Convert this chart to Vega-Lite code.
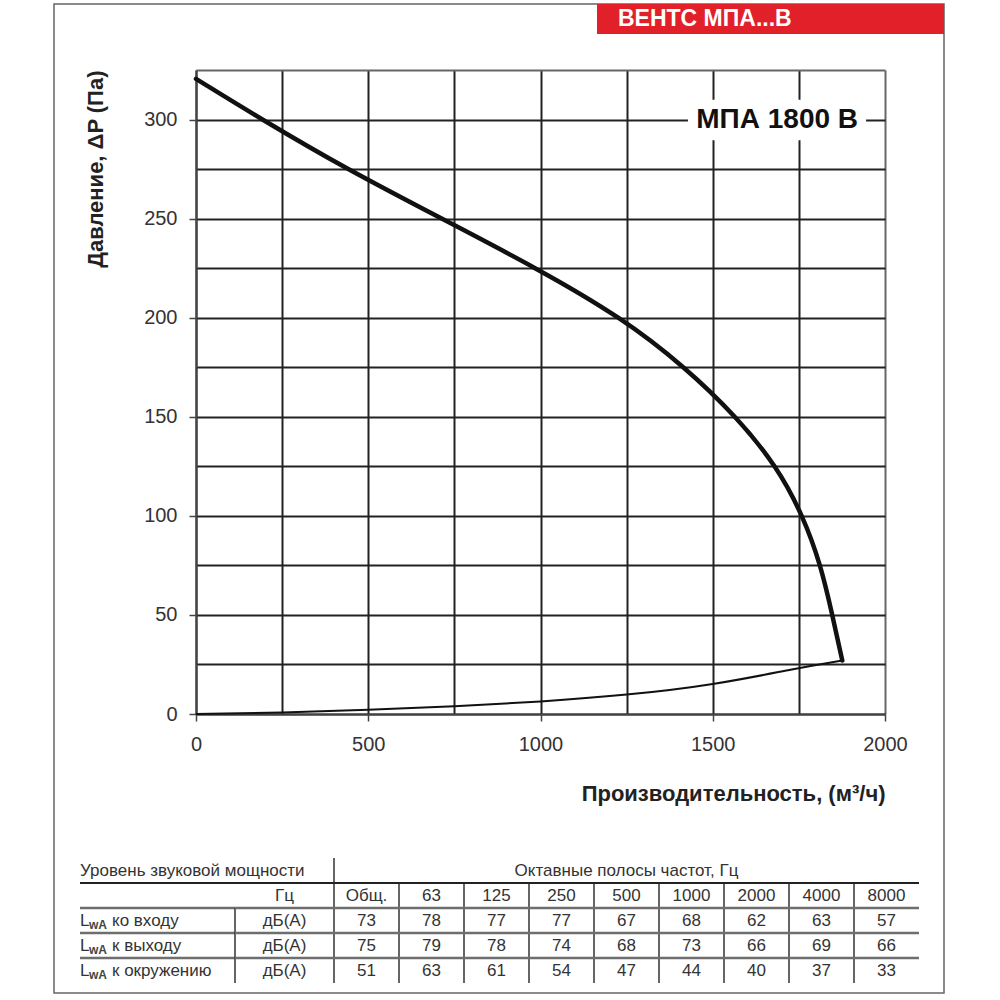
{
  "$schema": "https://vega.github.io/schema/vega-lite/v6.json",
  "autosize": {"type": "none"},
  "padding": {"left": 196, "top": 70, "right": 115, "bottom": 286},
  "width": 689,
  "height": 644,
  "background": "#ffffff",
  "config": {"view": {"stroke": null}, "font": "Liberation Sans"},
  "datasets": {
    "fan": [
      {"q": 0, "p": 320.5},
      {"q": 191, "p": 300},
      {"q": 437, "p": 275},
      {"q": 713, "p": 250},
      {"q": 989, "p": 225},
      {"q": 1236, "p": 200},
      {"q": 1420, "p": 175},
      {"q": 1569, "p": 150},
      {"q": 1686, "p": 125},
      {"q": 1762, "p": 100},
      {"q": 1814, "p": 75},
      {"q": 1847, "p": 50},
      {"q": 1876, "p": 27}
    ],
    "system": [
      {"q": 0, "p": 0},
      {"q": 250, "p": 0.7},
      {"q": 500, "p": 2},
      {"q": 750, "p": 3.8},
      {"q": 1000, "p": 6.2},
      {"q": 1250, "p": 9.5},
      {"q": 1500, "p": 14.5},
      {"q": 1750, "p": 23.3},
      {"q": 1876, "p": 27}
    ],
    "cols": [
      {"col": "Общ."}, {"col": "63"}, {"col": "125"}, {"col": "250"}, {"col": "500"},
      {"col": "1000"}, {"col": "2000"}, {"col": "4000"}, {"col": "8000"}
    ],
    "cells": [
      {"row": "r1", "col": "Общ.", "value": 73}, {"row": "r1", "col": "63", "value": 78},
      {"row": "r1", "col": "125", "value": 77}, {"row": "r1", "col": "250", "value": 77},
      {"row": "r1", "col": "500", "value": 67}, {"row": "r1", "col": "1000", "value": 68},
      {"row": "r1", "col": "2000", "value": 62}, {"row": "r1", "col": "4000", "value": 63},
      {"row": "r1", "col": "8000", "value": 57},
      {"row": "r2", "col": "Общ.", "value": 75}, {"row": "r2", "col": "63", "value": 79},
      {"row": "r2", "col": "125", "value": 78}, {"row": "r2", "col": "250", "value": 74},
      {"row": "r2", "col": "500", "value": 68}, {"row": "r2", "col": "1000", "value": 73},
      {"row": "r2", "col": "2000", "value": 66}, {"row": "r2", "col": "4000", "value": 69},
      {"row": "r2", "col": "8000", "value": 66},
      {"row": "r3", "col": "Общ.", "value": 51}, {"row": "r3", "col": "63", "value": 63},
      {"row": "r3", "col": "125", "value": 61}, {"row": "r3", "col": "250", "value": 54},
      {"row": "r3", "col": "500", "value": 47}, {"row": "r3", "col": "1000", "value": 44},
      {"row": "r3", "col": "2000", "value": 40}, {"row": "r3", "col": "4000", "value": 37},
      {"row": "r3", "col": "8000", "value": 33}
    ],
    "names": [
      {"row": "r1", "symbol": "L", "sub": "wA", "name": "ко входу", "unit": "дБ(А)"},
      {"row": "r2", "symbol": "L", "sub": "wA", "name": "к выходу", "unit": "дБ(А)"},
      {"row": "r3", "symbol": "L", "sub": "wA", "name": "к окружению", "unit": "дБ(А)"}
    ],
    "hlines": [{"row": "hz"}, {"row": "r1"}, {"row": "r2"}, {"row": "r3"}]
  },
  "layer": [
    {
      "data": {"values": [{"part": "page"}]},
      "mark": {"type": "rect", "fill": "transparent", "stroke": "#666666", "strokeWidth": 1.5},
      "encoding": {
        "x": {"field": "part", "type": "nominal", "axis": null,
              "scale": {"type": "band", "range": [-142, 748], "paddingInner": 0, "paddingOuter": 0}},
        "y": {"field": "part", "type": "nominal", "axis": null,
              "scale": {"type": "band", "range": [-66, 923], "paddingInner": 0, "paddingOuter": 0}}
      }
    },
    {
      "data": {"values": [{"series": "ВЕНТС МПА...В"}]},
      "encoding": {
        "x": {"field": "series", "type": "nominal", "axis": null,
              "scale": {"type": "band", "range": [401, 748], "paddingInner": 0, "paddingOuter": 0}},
        "y": {"field": "series", "type": "nominal", "axis": null,
              "scale": {"type": "band", "range": [-66, -36], "paddingInner": 0, "paddingOuter": 0}}
      },
      "layer": [
        {"mark": {"type": "rect", "fill": "#e2202a"}},
        {
          "mark": {"type": "text", "color": "#ffffff", "fontSize": 23, "fontWeight": "bold",
                   "align": "left", "baseline": "middle", "dx": 21},
          "encoding": {
            "x": {"field": "series", "type": "nominal", "bandPosition": 0},
            "text": {"field": "series"}
          }
        }
      ]
    },
    {
      "layer": [
        {
          "data": {"name": "fan"},
          "mark": {"type": "line", "interpolate": "basis", "color": "#111111",
                   "strokeWidth": 4.5, "strokeCap": "round"},
          "encoding": {
            "x": {
              "field": "q", "type": "quantitative",
              "scale": {"domain": [0, 2000], "nice": false},
              "axis": {
                "values": [0, 250, 500, 750, 1000, 1250, 1500, 1750, 2000],
                "format": "d",
                "labelExpr": "datum.value % 500 === 0 ? datum.label : ''",
                "grid": true,
                "gridColor": {"condition": {"test": "datum.value === 2000", "value": "#666666"}, "value": "#222222"},
                "gridWidth": 2, "gridOpacity": 1,
                "domainColor": "#444444", "domainWidth": 2,
                "tickColor": "#444444", "tickWidth": 1.5, "tickSize": 7,
                "tickOpacity": {"condition": {"test": "datum.value % 500 === 0", "value": 1}, "value": 0},
                "labelFontSize": 20, "labelColor": "#333333", "labelPadding": 13,
                "labelFlush": false, "labelOverlap": false,
                "title": "Производительность, (м³/ч)",
                "titleFontSize": 22, "titleFontWeight": "bold", "titleColor": "#222222",
                "titleAnchor": "end", "titlePadding": 29
              }
            },
            "y": {
              "field": "p", "type": "quantitative",
              "scale": {"domain": [0, 325], "nice": false},
              "axis": {
                "values": [0, 25, 50, 75, 100, 125, 150, 175, 200, 225, 250, 275, 300, 325],
                "format": "d",
                "labelExpr": "datum.value % 50 === 0 && datum.value < 325 ? datum.label : ''",
                "grid": true,
                "gridColor": {"condition": {"test": "datum.value === 325", "value": "#666666"}, "value": "#222222"},
                "gridWidth": 2, "gridOpacity": 1,
                "domainColor": "#444444", "domainWidth": 2,
                "tickColor": "#444444", "tickWidth": 1.5, "tickSize": 7,
                "tickOpacity": {"condition": {"test": "datum.value % 50 === 0 && datum.value < 325", "value": 1}, "value": 0},
                "labelFontSize": 20, "labelColor": "#333333", "labelPadding": 12,
                "labelFlush": false, "labelOverlap": false,
                "title": "Давление, ΔP (Па)",
                "titleFontSize": 22, "titleFontWeight": "bold", "titleColor": "#222222",
                "titleAnchor": "end", "titlePadding": 36
              }
            }
          }
        },
        {
          "data": {"name": "system"},
          "mark": {"type": "line", "interpolate": "basis", "color": "#111111", "strokeWidth": 2},
          "encoding": {
            "x": {"field": "q", "type": "quantitative"},
            "y": {"field": "p", "type": "quantitative"}
          }
        },
        {
          "data": {"values": [{}]},
          "mark": {"type": "rect", "fill": "#ffffff"},
          "encoding": {
            "x": {"datum": 1428, "type": "quantitative"},
            "x2": {"datum": 1945},
            "y": {"datum": 289.5, "type": "quantitative"},
            "y2": {"datum": 310}
          }
        },
        {
          "data": {"values": [{"label": "МПА 1800 В"}]},
          "mark": {"type": "text", "fontSize": 28, "fontWeight": "bold", "color": "#111111"},
          "encoding": {
            "x": {"datum": 1687, "type": "quantitative"},
            "y": {"datum": 300, "type": "quantitative"},
            "text": {"field": "label"}
          }
        }
      ]
    },
    {
      "encoding": {
        "x": {"field": "col", "type": "nominal", "axis": null,
              "scale": {"type": "band", "domain": ["Общ.", "63", "125", "250", "500", "1000", "2000", "4000", "8000"],
                        "range": [138, 723], "paddingInner": 0, "paddingOuter": 0}},
        "y": {"field": "row", "type": "nominal", "axis": null,
              "scale": {"type": "band", "domain": ["hdr", "hz", "r1", "r2", "r3"],
                        "range": [788, 913], "paddingInner": 0, "paddingOuter": 0}}
      },
      "layer": [
        {
          "data": {"name": "cells"},
          "mark": {"type": "text", "fontSize": 17, "color": "#333333", "baseline": "middle"},
          "encoding": {"text": {"field": "value"}}
        },
        {
          "data": {"name": "cols"},
          "mark": {"type": "text", "fontSize": 17, "color": "#333333", "baseline": "middle"},
          "encoding": {
            "y": {"datum": "hz", "type": "nominal"},
            "text": {"field": "col"}
          }
        },
        {
          "data": {"values": [{"title": "Октавные полосы частот, Гц"}]},
          "mark": {"type": "text", "fontSize": 17, "color": "#333333", "baseline": "middle"},
          "encoding": {
            "x": {"datum": "500", "type": "nominal"},
            "y": {"datum": "hdr", "type": "nominal"},
            "text": {"field": "title"}
          }
        },
        {
          "data": {"name": "cols"},
          "mark": {"type": "rule", "color": "#333333", "strokeWidth": 1.5},
          "encoding": {
            "x": {"field": "col", "type": "nominal", "bandPosition": 0},
            "y": {"datum": "hz", "type": "nominal", "bandPosition": 0},
            "y2": {"datum": "r3", "bandPosition": 1}
          }
        },
        {
          "data": {"values": [{}]},
          "mark": {"type": "rule", "color": "#333333", "strokeWidth": 1.5},
          "encoding": {
            "x": {"datum": "Общ.", "type": "nominal", "bandPosition": 0},
            "y": {"datum": "hdr", "type": "nominal", "bandPosition": 0},
            "y2": {"datum": "hz", "bandPosition": 0}
          }
        },
        {
          "data": {"name": "hlines"},
          "mark": {"type": "rule"},
          "encoding": {
            "x": {"datum": "Общ.", "type": "nominal", "bandPosition": 0},
            "x2": {"datum": "8000", "bandPosition": 1},
            "y": {"field": "row", "type": "nominal", "bandPosition": 0},
            "color": {"condition": {"test": "datum.row === 'hz'", "value": "#222222"}, "value": "#6e6e6e"},
            "strokeWidth": {"condition": {"test": "datum.row === 'hz'", "value": 2}, "value": 2.5}
          }
        }
      ]
    },
    {
      "encoding": {
        "x": {"datum": "name", "type": "nominal", "axis": null,
              "scale": {"type": "band", "domain": ["name"], "range": [-116, 39], "paddingInner": 0, "paddingOuter": 0}},
        "y": {"field": "row", "type": "nominal", "axis": null,
              "scale": {"type": "band", "domain": ["hdr", "hz", "r1", "r2", "r3"],
                        "range": [788, 913], "paddingInner": 0, "paddingOuter": 0}}
      },
      "layer": [
        {
          "data": {"name": "names"},
          "mark": {"type": "text", "fontSize": 17, "color": "#333333", "align": "left", "baseline": "middle"},
          "encoding": {
            "x": {"datum": "name", "type": "nominal", "bandPosition": 0},
            "text": {"field": "symbol"}
          }
        },
        {
          "data": {"name": "names"},
          "mark": {"type": "text", "fontSize": 12, "fontWeight": "bold", "color": "#444444", "align": "left", "baseline": "middle", "dx": 9, "dy": 4},
          "encoding": {
            "x": {"datum": "name", "type": "nominal", "bandPosition": 0},
            "text": {"field": "sub"}
          }
        },
        {
          "data": {"name": "names"},
          "mark": {"type": "text", "fontSize": 17, "color": "#333333", "align": "left", "baseline": "middle", "dx": 32},
          "encoding": {
            "x": {"datum": "name", "type": "nominal", "bandPosition": 0},
            "text": {"field": "name"}
          }
        },
        {
          "data": {"values": [{"title": "Уровень звуковой мощности"}]},
          "mark": {"type": "text", "fontSize": 17, "color": "#333333", "align": "left", "baseline": "middle"},
          "encoding": {
            "x": {"datum": "name", "type": "nominal", "bandPosition": 0},
            "y": {"datum": "hdr", "type": "nominal"},
            "text": {"field": "title"}
          }
        },
        {
          "data": {"name": "hlines"},
          "mark": {"type": "rule"},
          "encoding": {
            "x": {"datum": "name", "type": "nominal", "bandPosition": 0},
            "x2": {"datum": "name", "bandPosition": 1},
            "y": {"field": "row", "type": "nominal", "bandPosition": 0},
            "color": {"condition": {"test": "datum.row === 'hz'", "value": "#222222"}, "value": "#6e6e6e"},
            "strokeWidth": {"condition": {"test": "datum.row === 'hz'", "value": 2}, "value": 2.5}
          }
        }
      ]
    },
    {
      "encoding": {
        "x": {"datum": "unit", "type": "nominal", "axis": null,
              "scale": {"type": "band", "domain": ["unit"], "range": [39, 138], "paddingInner": 0, "paddingOuter": 0}},
        "y": {"field": "row", "type": "nominal", "axis": null,
              "scale": {"type": "band", "domain": ["hdr", "hz", "r1", "r2", "r3"],
                        "range": [788, 913], "paddingInner": 0, "paddingOuter": 0}}
      },
      "layer": [
        {
          "data": {"name": "names"},
          "mark": {"type": "text", "fontSize": 17, "color": "#333333", "baseline": "middle"},
          "encoding": {"text": {"field": "unit"}}
        },
        {
          "data": {"values": [{"unit": "Гц"}]},
          "mark": {"type": "text", "fontSize": 17, "color": "#333333", "baseline": "middle"},
          "encoding": {
            "y": {"datum": "hz", "type": "nominal"},
            "text": {"field": "unit"}
          }
        },
        {
          "data": {"values": [{}]},
          "mark": {"type": "rule", "color": "#333333", "strokeWidth": 1.5},
          "encoding": {
            "x": {"datum": "unit", "type": "nominal", "bandPosition": 0},
            "y": {"datum": "r1", "type": "nominal", "bandPosition": 0},
            "y2": {"datum": "r3", "bandPosition": 1}
          }
        },
        {
          "data": {"name": "hlines"},
          "mark": {"type": "rule"},
          "encoding": {
            "x": {"datum": "unit", "type": "nominal", "bandPosition": 0},
            "x2": {"datum": "unit", "bandPosition": 1},
            "y": {"field": "row", "type": "nominal", "bandPosition": 0},
            "color": {"condition": {"test": "datum.row === 'hz'", "value": "#222222"}, "value": "#6e6e6e"},
            "strokeWidth": {"condition": {"test": "datum.row === 'hz'", "value": 2}, "value": 2.5}
          }
        }
      ]
    }
  ],
  "resolve": {
    "scale": {"x": "independent", "y": "independent"},
    "axis": {"x": "independent", "y": "independent"}
  }
}
